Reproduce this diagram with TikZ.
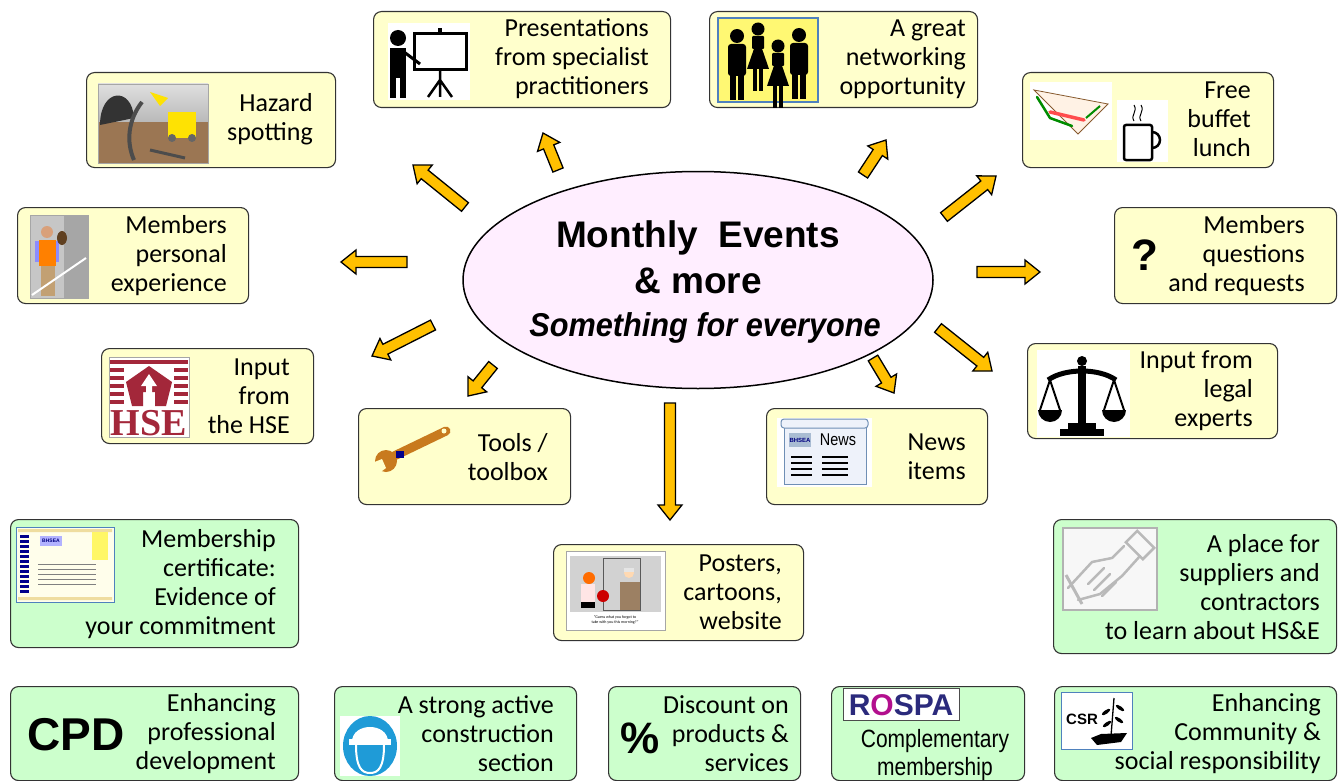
\documentclass[tikz,border=0pt]{standalone}
\usepackage{fontspec}
\setmainfont{Carlito}
\newfontfamily\arialf{Liberation Sans}
\newfontfamily\timesf{Liberation Serif}
\usetikzlibrary{calc,shapes.geometric}
\definecolor{boxyellow}{HTML}{FFFFCC}
\definecolor{boxgreen}{HTML}{CCFFCC}
\definecolor{ellfill}{HTML}{FFEEFF}
\definecolor{arrowfill}{HTML}{FFC000}
\definecolor{hsered}{HTML}{A3273A}
\definecolor{signblue}{HTML}{1F9BD7}
\definecolor{rospablue}{HTML}{2B2A7C}
\definecolor{netblue}{HTML}{4F81BD}
\definecolor{newsblue}{HTML}{6F8FB5}
\definecolor{newsbg}{HTML}{EEF2FA}
\definecolor{wrenchc}{HTML}{C87A1E}
\definecolor{soil}{HTML}{9B7653}
\definecolor{skin}{HTML}{D9A07A}
\definecolor{khaki}{HTML}{C2A073}
\newcommand\blockarrow[2]{%
  \filldraw[barrowstyle] ($(#1)!5.5pt!90:(#2)$) -- ($(#2)!15pt!(#1)!5.5pt!-90:(#1)$)
   -- ($(#2)!15pt!(#1)!12pt!-90:(#1)$) -- (#2) -- ($(#2)!15pt!(#1)!12pt!90:(#1)$)
   -- ($(#2)!15pt!(#1)!5.5pt!90:(#1)$) -- ($(#1)!5.5pt!-90:(#2)$) -- cycle;}
\newcommand\bx[6]{\node[#1, minimum width={(#5)-(#3)}, minimum height={(#6)-(#4)}] (#2) at (#3,#4) {};}
\newcommand\manfig[2]{%
  \fill ({#1},{#2}) circle (7pt);
  \fill[rounded corners=3pt] ({#1-9},{#2+8}) rectangle ({#1+9},{#2+40});
  \fill ({#1-7},{#2+38}) rectangle ({#1-1},{#2+64});
  \fill ({#1+1},{#2+38}) rectangle ({#1+7},{#2+64});}
\newcommand\womanfig[2]{%
  \fill ({#1},{#2}) circle (6.5pt);
  \fill[rounded corners=1pt] ({#1-6},{#2+7}) rectangle ({#1+6},{#2+20});
  \fill ({#1},{#2+8}) -- ({#1-11},{#2+40}) -- ({#1+11},{#2+40}) -- cycle;
  \fill ({#1-5},{#2+39}) rectangle ({#1-1},{#2+62});
  \fill ({#1+1},{#2+39}) rectangle ({#1+5},{#2+62});}
\tikzset{
  ybox/.style={draw=black!80, line width=1.1pt, fill=boxyellow, rounded corners=8pt, anchor=north west, inner sep=0pt},
  gbox/.style={ybox, fill=boxgreen},
  lbl/.style={anchor=east, align=right, inner sep=0pt, font=\fontsize{26}{29}\selectfont},
  barrowstyle/.style={draw=black, fill=arrowfill, line width=1.3pt, line join=miter},
  imgframe/.style={draw=gray!70, line width=0.8pt},
}
\begin{document}
\begin{tikzpicture}[x=1pt,y=-1pt]
\useasboundingbox (0,0) rectangle (1338,781);
\fill[white] (0,0) rectangle (1338,781);

% ---------- boxes ----------
\bx{ybox}{pres}{373}{11}{670}{107}
\bx{ybox}{network}{709}{11}{977}{107}
\bx{ybox}{hazard}{86}{72}{335}{167}
\bx{ybox}{buffet}{1022}{72}{1273}{167}
\bx{ybox}{personal}{17}{207}{248}{303}
\bx{ybox}{questions}{1114}{207}{1336}{303}
\bx{ybox}{hse}{101}{348}{313}{443}
\bx{ybox}{legal}{1027}{343}{1277}{438}
\bx{ybox}{tools}{358}{408}{570}{504}
\bx{ybox}{news}{766}{408}{987}{504}
\bx{gbox}{member}{10}{519}{298}{647}
\bx{ybox}{posters}{553}{544}{803}{640}
\bx{gbox}{supplier}{1053}{519}{1336}{653}
\bx{gbox}{cpd}{10}{686}{298}{780}
\bx{gbox}{strong}{334}{686}{576}{780}
\bx{gbox}{discount}{608}{686}{800}{780}
\bx{gbox}{rospa}{831}{686}{1024}{780}
\bx{gbox}{csr}{1054}{686}{1336}{780}

% ---------- centre ----------
\node[draw=black, line width=1.5pt, fill=ellfill, ellipse, minimum width=470pt, minimum height=217pt] (centre) at (698,280) {};
\node[font=\arialf\bfseries\fontsize{37}{40}\selectfont] (t1) at (698,238) {Monthly\ \ Events};
\node[font=\arialf\bfseries\fontsize{37}{40}\selectfont] (t2) at (698,281) {\&\ more};
\node[font=\arialf\bfseries\itshape\fontsize{33}{38}\selectfont, xscale=0.93] (t3) at (705,328) {Something for everyone};

% ---------- arrows ----------
\coordinate (a1s) at (558,170); \coordinate (a1e) at (543,133);
\coordinate (a2s) at (465,207); \coordinate (a2e) at (413,165);
\coordinate (a3s) at (407,262); \coordinate (a3e) at (341,262);
\coordinate (a4s) at (433,325); \coordinate (a4e) at (372,356);
\coordinate (a5s) at (493,365); \coordinate (a5e) at (468,396);
\coordinate (a6s) at (670,403); \coordinate (a6e) at (670,520);
\coordinate (a7s) at (873,358); \coordinate (a7e) at (894,393);
\coordinate (a8s) at (938,328); \coordinate (a8e) at (992,371);
\coordinate (a9s) at (977,272); \coordinate (a9e) at (1040,272);
\coordinate (a10s) at (944,217); \coordinate (a10e) at (996,176);
\coordinate (a11s) at (863,175); \coordinate (a11e) at (886,140);
\blockarrow{a1s}{a1e}
\blockarrow{a2s}{a2e}
\blockarrow{a3s}{a3e}
\blockarrow{a4s}{a4e}
\blockarrow{a5s}{a5e}
\blockarrow{a6s}{a6e}
\blockarrow{a7s}{a7e}
\blockarrow{a8s}{a8e}
\blockarrow{a9s}{a9e}
\blockarrow{a10s}{a10e}
\blockarrow{a11s}{a11e}

% ---------- labels ----------
\node[lbl] (presT) at (649,59) {Presentations\\from specialist\\practitioners};
\node[lbl] (networkT) at (966,59) {A great\\networking\\opportunity};
\node[lbl] (hazardT) at (313,119) {Hazard\\spotting};
\node[lbl] (buffetT) at (1251,119) {Free\\buffet\\lunch};
\node[lbl] (personalT) at (227,256) {Members\\personal\\experience};
\node[lbl] (questionsT) at (1305,256) {Members\\questions\\and requests};
\node[lbl] (hseT) at (290,396) {Input\\from\\the HSE};
\node[lbl] (legalT) at (1253,391) {Input from\\legal\\experts};
\node[lbl] (toolsT) at (548,457) {Tools /\\toolbox};
\node[lbl] (newsT) at (966,457) {News\\items};
\node[lbl] (memberT) at (276,584) {Membership\\certificate:\\Evidence of\\your commitment};
\node[lbl] (postersT) at (782,592) {Posters,\\cartoons,\\website};
\node[lbl] (supplierT) at (1320,587) {A place for\\suppliers and\\contractors\\to learn about HS\&E};
\node[lbl] (cpdT) at (276,734) {Enhancing\\professional\\development};
\node[lbl] (strongT) at (554,734) {A strong active\\construction\\section};
\node[lbl] (discountT) at (789,734) {Discount on\\products \&\\services};
\node[lbl] (csrT) at (1321,734) {Enhancing\\Community \&\\social responsibility};
\node[align=center, inner sep=0pt, font=\arialf\fontsize{25}{28}\selectfont, xscale=0.84] (rospaT) at (935,755) {Complementary\\membership};

% ---------- pictures ----------
% presenter
\fill[white] (388,23) rectangle (470,100);
\fill (398,38) circle (8pt);
\fill (390,48) rectangle (406,78);
\fill (390,77) rectangle (396,98);
\fill (400,77) rectangle (406,98);
\draw[line width=3pt] (404,52) -- (420,64);
\draw[line width=3pt] (414,34) rectangle (466,70);
\fill (438,28) rectangle (442,34);
\draw[line width=2.5pt] (440,70) -- (440,97) (440,80) -- (428,97) (440,80) -- (452,97);

% networking
\fill[yellow!55] (718,18) rectangle (818,102);
\draw[netblue, line width=2pt] (718,18) rectangle (818,102);
\manfig{737}{36}
\womanfig{758}{29}
\womanfig{778}{46}
\manfig{799}{35}

% sandwich and mug
\fill[white] (1030,82) rectangle (1112,140);
\draw[brown!70!black, fill=orange!10, line width=0.8pt] (1034,90) -- (1108,104) -- (1078,134) -- cycle;
\draw[green!55!black, line width=2.5pt, line cap=round] (1037,97) -- (1050,118) -- (1072,126);
\draw[red!70, line width=3.5pt, line cap=round] (1050,112) -- (1084,120);
\draw[green!55!black, line width=2pt] (1086,118) -- (1100,106);
\fill[white] (1117,100) rectangle (1168,162);
\draw[line width=2.5pt, rounded corners=2pt] (1124,125) rectangle (1152,160);
\draw[line width=2.5pt] (1152,132) arc[start angle=90, end angle=-90, radius=8pt];
\draw[line width=1pt] (1134,121) .. controls (1130,115) and (1138,112) .. (1134,105);
\draw[line width=1pt] (1141,121) .. controls (1137,115) and (1145,112) .. (1141,105);

% hazard picture
\shade[top color=gray!25, bottom color=gray!55] (98,84) rectangle (208,122);
\fill[soil] (98,122) rectangle (208,163);
\fill[gray!40!black] (100,125) .. controls (100,88) and (132,86) .. (134,118) -- cycle;
\draw[black!70, line width=4pt] (142,102) .. controls (128,120) and (126,142) .. (134,160);
\fill[yellow!85!orange] (150,92) -- (168,98) -- (160,106) -- cycle;
\fill[yellow!85!orange] (168,112) rectangle (196,138);
\fill[black!60] (172,138) circle (4pt) (192,138) circle (4pt);
\draw[black!70, line width=3pt] (150,150) -- (185,158);
\draw[imgframe] (98,84) rectangle (208,163);

% member photo
\fill[gray!45] (30,215) rectangle (88,298);
\fill[gray!70] (64,215) rectangle (88,298);
\fill[skin] (47,232) circle (6pt);
\fill[blue!45] (35,241) rectangle (59,262);
\fill[orange] (39,240) rectangle (56,266);
\fill[khaki] (41,266) rectangle (55,296);
\fill[brown!50!black] (62,238) ellipse [x radius=5pt, y radius=7pt];
\draw[white, line width=2pt] (32,295) -- (86,258);
\draw[imgframe] (30,215) rectangle (88,298);

% question mark
\node[font=\arialf\bfseries\fontsize{44}{44}\selectfont] (qmark) at (1145,255) {?};

% HSE logo
\fill[white] (109,357) rectangle (189,437);
\foreach \yy in {360,368,...,400} \fill[hsered] (110,\yy) rectangle (188,{\yy+4});
\fill[white] (124,366) rectangle (174,408);
\fill[hsered] (149,366) -- (172,382) -- (166,406) -- (155,406) -- (155,392) -- (143,392) -- (143,406) -- (132,406) -- (126,382) -- cycle;
\fill[white] (149,374) -- (157,386) -- (152,386) -- (152,397) -- (146,397) -- (146,386) -- (141,386) -- cycle;
\node[font=\timesf\bfseries\fontsize{38}{38}\selectfont, text=hsered, inner sep=0pt] (hselogo) at (149,423) {HSE};
\draw[imgframe] (109,357) rectangle (189,437);

% scales
\fill[white] (1037,350) rectangle (1130,437);
\fill (1082,361) circle (5pt);
\fill (1078,366) rectangle (1086,425);
\fill (1068,423) rectangle (1096,430);
\fill (1060,429) rectangle (1104,436);
\draw[line width=5pt] (1048,380) .. controls (1065,368) and (1099,368) .. (1116,380);
\draw[line width=2pt] (1050,380) -- (1040,410) (1050,380) -- (1060,410) (1114,380) -- (1104,410) (1114,380) -- (1124,410);
\fill (1038,410) arc[start angle=180, end angle=360, radius=12pt] -- cycle;
\fill (1102,410) arc[start angle=180, end angle=360, radius=12pt] -- cycle;

% wrench
\draw[wrenchc, line width=9pt, line cap=round] (392,457) -- (446,431);
\fill[wrenchc] (386,461) circle (11pt);
\fill[boxyellow] (372,463) -- (382,459) -- (386,468) -- (378,474) -- cycle;
\fill[blue!55!black] (396,451) rectangle (404,458);
\fill[boxyellow] (444,431) circle (2.5pt);

% news icon
\fill[white] (777,418) rectangle (872,487);
\draw[newsblue, fill=newsbg, line width=1pt] (784,424) rectangle (866,484);
\draw[newsblue, fill=newsbg, line width=1pt, rounded corners=3pt] (781,419) rectangle (868,428);
\fill[newsblue!60] (789,433) rectangle (811,447);
\node[font=\arialf\bfseries\fontsize{6}{6}\selectfont, text=blue!50!black, inner sep=0pt] (bhsea1) at (800,440) {BHSEA};
\node[font=\arialf\fontsize{17}{17}\selectfont, xscale=0.85, inner sep=0pt] (newsword) at (838,440) {News};
\foreach \yy in {457,463,469,475} {\draw[line width=2pt] (791,\yy) -- (812,\yy); \draw[line width=2pt] (822,\yy) -- (848,\yy);}

% certificate
\fill[yellow!8] (16,527) rectangle (114,602);
\fill[yellow!40!brown!45] (18,529) rectangle (112,532) (18,597) rectangle (112,600);
\foreach \yy in {535,540,...,590} \fill[blue!55!black] (20,\yy) rectangle (29,{\yy+2.5});
\fill[blue!30] (40,536) rectangle (62,546);
\node[font=\arialf\bfseries\fontsize{5}{5}\selectfont, text=blue!50!black, inner sep=0pt] (bhsea2) at (51,541) {BHSEA};
\fill[yellow!60] (92,532) rectangle (108,560);
\foreach \yy in {564,569,...,584} \draw[gray, line width=0.6pt] (38,\yy) -- (96,\yy);
\draw[netblue, line width=1pt] (16,527) rectangle (114,602);

% cartoon
\fill[white] (566,551) rectangle (665,630);
\fill[gray!35] (570,556) rectangle (661,612);
\draw[gray!70!black, line width=0.8pt] (603,558) rectangle (640,610);
\fill[orange!85!red] (589,578) circle (6pt);
\fill[pink!40] (581,584) rectangle (595,602);
\fill[black] (581,602) rectangle (595,608);
\fill[red!80!black] (603,596) circle (6pt);
\fill[gray!55!brown] (620,582) rectangle (640,610);
\fill[orange!30] (629,573) circle (5pt);
\fill[white!90!black] (624,568) rectangle (634,572);
\node[font=\fontsize{4}{4.5}\selectfont, align=center, inner sep=0pt] (caption) at (615,620) {``Guess what you forgot to\\take with you this morning?''};
\draw[imgframe] (566,551) rectangle (665,630);

% handshake
\fill[gray!6] (1063,528) rectangle (1157,610);
\draw[gray!55, line width=2.5pt, line join=round, line cap=round] (1068,588) -- (1092,562) -- (1112,558) -- (1124,546);
\draw[gray!55, line width=2.5pt, line join=round, line cap=round] (1078,600) -- (1100,594) -- (1122,576) -- (1140,556);
\draw[gray!55, line width=2.5pt, line join=round, line cap=round] (1094,590) -- (1110,574) (1102,596) -- (1116,582) (1088,584) -- (1104,568);
\draw[gray!55, line width=2.5pt, rotate around={45:(1140,545)}] (1132,533) rectangle (1148,557);
\draw[gray!55, line width=3pt] (1066,575) -- (1082,604);
\draw[gray!60, line width=1.5pt] (1063,528) rectangle (1157,610);

% CPD
\node[font=\arialf\bfseries\fontsize{46}{46}\selectfont, inner sep=0pt] (cpdword) at (76,735) {CPD};

% hard hat sign
\fill[white] (340,716) rectangle (400,776);
\fill[signblue] (370,746) ellipse [x radius=27pt, y radius=30pt];
\fill[white] (352,742) .. controls (352,722) and (388,722) .. (388,742) -- cycle;
\fill[white] (349,739) rectangle (391,745);
\draw[white, line width=2pt] (356,745) .. controls (356,768) and (362,773) .. (370,773) .. controls (378,773) and (384,768) .. (384,745);

% percent
\node[font=\arialf\bfseries\fontsize{44}{44}\selectfont, inner sep=0pt] (pct) at (640,738) {\%};

% RoSPA
\fill[white] (843,688) rectangle (959,720);
\draw[black!70, line width=0.8pt] (843,688) rectangle (959,720);
\node[font=\arialf\bfseries\fontsize{30}{30}\selectfont, text=rospablue, inner sep=0pt] (rospaword) at (901,705) {R\textcolor{magenta!70!blue}{O}SPA};

% CSR
\fill[white] (1061,692) rectangle (1132,749);
\draw[netblue, line width=1pt] (1061,692) rectangle (1132,749);
\node[font=\arialf\bfseries\fontsize{15}{15}\selectfont, inner sep=0pt] (csrword) at (1082,719) {CSR};
\draw[line width=1.3pt] (1111,736) -- (1114,698);
\fill[rotate around={35:(1106,712)}] (1106,712) ellipse [x radius=5pt, y radius=1.8pt];
\fill[rotate around={-35:(1120,708)}] (1120,708) ellipse [x radius=5pt, y radius=1.8pt];
\fill[rotate around={35:(1107,724)}] (1107,724) ellipse [x radius=5pt, y radius=1.8pt];
\fill[rotate around={-35:(1119,720)}] (1119,720) ellipse [x radius=5pt, y radius=1.8pt];
\fill (1091,738) -- (1101,734) -- (1127,733) -- (1121,742) -- (1097,745) -- cycle;
\end{tikzpicture}
\end{document}
